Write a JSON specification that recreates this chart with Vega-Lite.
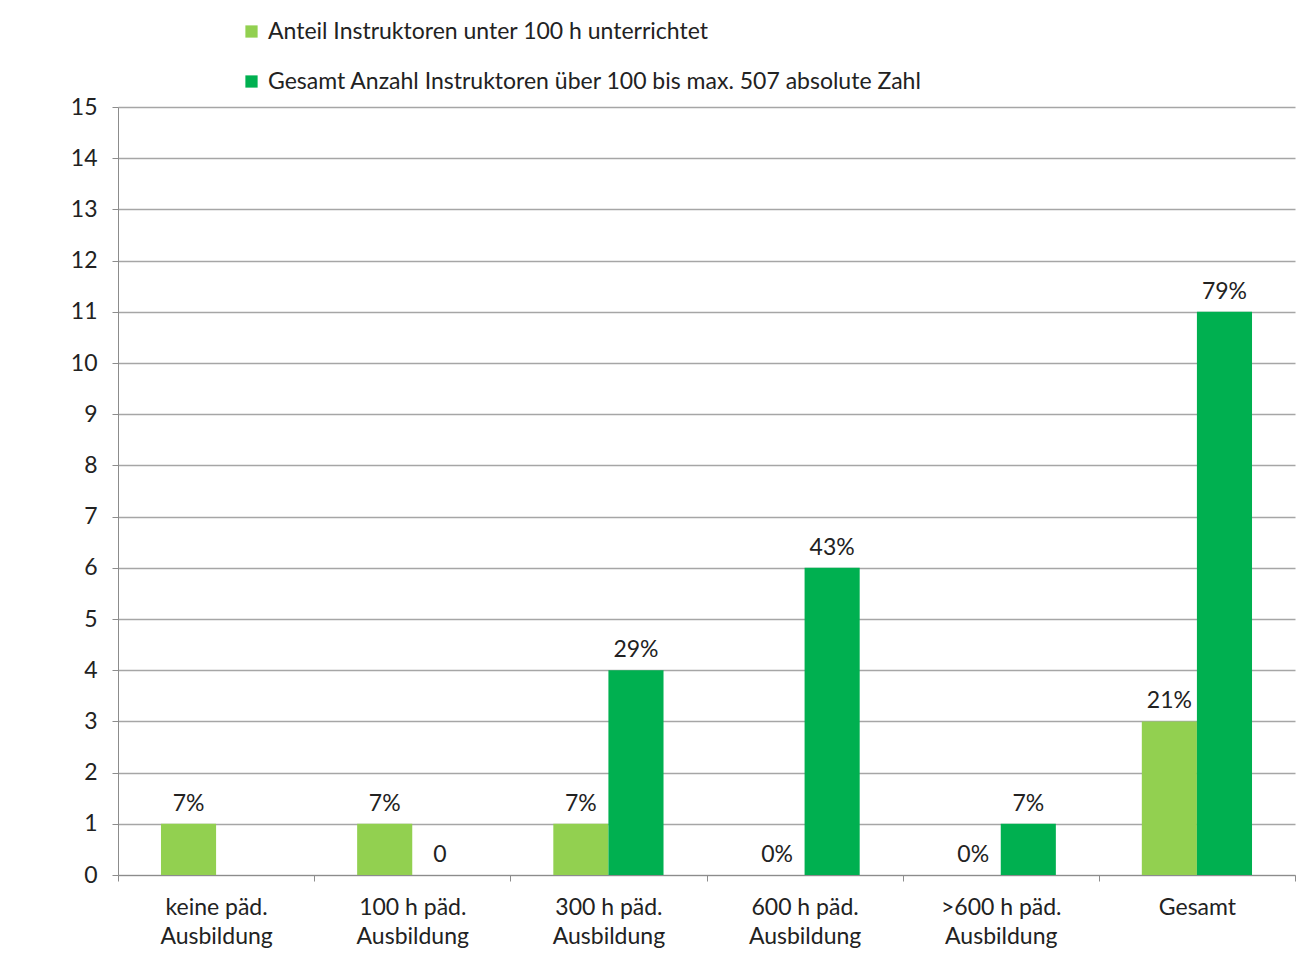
{
  "$schema": "https://vega.github.io/schema/vega-lite/v6.json",
  "width": 1177,
  "height": 768,
  "autosize": "none",
  "padding": {"left": 118, "top": 107, "right": 7, "bottom": 79},
  "background": "white",
  "config": {
    "font": "Lato",
    "view": {"stroke": null},
    "axis": {"labelFont": "Lato", "labelColor": "#222222", "labelFontSize": 23}
  },
  "data": {
    "values": [
      {"cat": "keine päd.|Ausbildung", "series": "Anteil Instruktoren unter 100 h unterrichtet", "value": 1, "label": "7%"},
      {"cat": "keine päd.|Ausbildung", "series": "Gesamt Anzahl Instruktoren über 100 bis max. 507 absolute Zahl", "value": 0, "label": ""},
      {"cat": "100 h päd.|Ausbildung", "series": "Anteil Instruktoren unter 100 h unterrichtet", "value": 1, "label": "7%"},
      {"cat": "100 h päd.|Ausbildung", "series": "Gesamt Anzahl Instruktoren über 100 bis max. 507 absolute Zahl", "value": 0, "label": "0"},
      {"cat": "300 h päd.|Ausbildung", "series": "Anteil Instruktoren unter 100 h unterrichtet", "value": 1, "label": "7%"},
      {"cat": "300 h päd.|Ausbildung", "series": "Gesamt Anzahl Instruktoren über 100 bis max. 507 absolute Zahl", "value": 4, "label": "29%"},
      {"cat": "600 h päd.|Ausbildung", "series": "Anteil Instruktoren unter 100 h unterrichtet", "value": 0, "label": "0%"},
      {"cat": "600 h päd.|Ausbildung", "series": "Gesamt Anzahl Instruktoren über 100 bis max. 507 absolute Zahl", "value": 6, "label": "43%"},
      {"cat": ">600 h päd.|Ausbildung", "series": "Anteil Instruktoren unter 100 h unterrichtet", "value": 0, "label": "0%"},
      {"cat": ">600 h päd.|Ausbildung", "series": "Gesamt Anzahl Instruktoren über 100 bis max. 507 absolute Zahl", "value": 1, "label": "7%"},
      {"cat": "Gesamt", "series": "Anteil Instruktoren unter 100 h unterrichtet", "value": 3, "label": "21%"},
      {"cat": "Gesamt", "series": "Gesamt Anzahl Instruktoren über 100 bis max. 507 absolute Zahl", "value": 11, "label": "79%"}
    ]
  },
  "encoding": {
    "x": {
      "field": "cat",
      "type": "nominal",
      "sort": null,
      "scale": {"paddingInner": 0, "paddingOuter": 0},
      "axis": {
        "title": null,
        "labelAngle": 0,
        "labelExpr": "split(datum.label, '|')",
        "labelLineHeight": 29,
        "labelPadding": 15,
        "labelBaseline": "top",
        "tickBand": "extent",
        "tickSize": 6,
        "tickColor": "#8c8c8c",
        "domainColor": "#8c8c8c",
        "grid": false
      }
    },
    "xOffset": {
      "field": "series",
      "type": "nominal",
      "sort": null,
      "scale": {"paddingInner": 0, "paddingOuter": 0.78}
    },
    "y": {
      "field": "value",
      "type": "quantitative",
      "scale": {"domain": [0, 15], "nice": false},
      "axis": {
        "title": null,
        "values": [0,1,2,3,4,5,6,7,8,9,10,11,12,13,14,15],
        "tickSize": 6,
        "tickColor": "#8c8c8c",
        "domainColor": "#8c8c8c",
        "gridColor": "#a6a6a6",
        "gridWidth": 1.3,
        "labelPadding": 15
      }
    }
  },
  "layer": [
    {
      "mark": {"type": "bar"},
      "encoding": {
        "color": {
          "field": "series",
          "type": "nominal",
          "sort": null,
          "scale": {"range": ["#92D050", "#00B050"]},
          "legend": {
            "title": null,
            "orient": "none",
            "legendX": 122,
            "legendY": -87,
            "symbolType": "square",
            "symbolSize": 150,
            "symbolStrokeWidth": 0,
            "labelFontSize": 23,
            "labelFont": "Lato",
            "labelColor": "#222222",
            "labelLimit": 900,
            "rowPadding": 26,
            "symbolOffset": 0,
            "labelOffset": 5
          }
        }
      }
    },
    {
      "mark": {"type": "text", "baseline": "bottom", "dy": -8, "fontSize": 23, "font": "Lato", "color": "#222222"},
      "encoding": {
        "text": {"field": "label", "type": "nominal"}
      }
    }
  ]
}
